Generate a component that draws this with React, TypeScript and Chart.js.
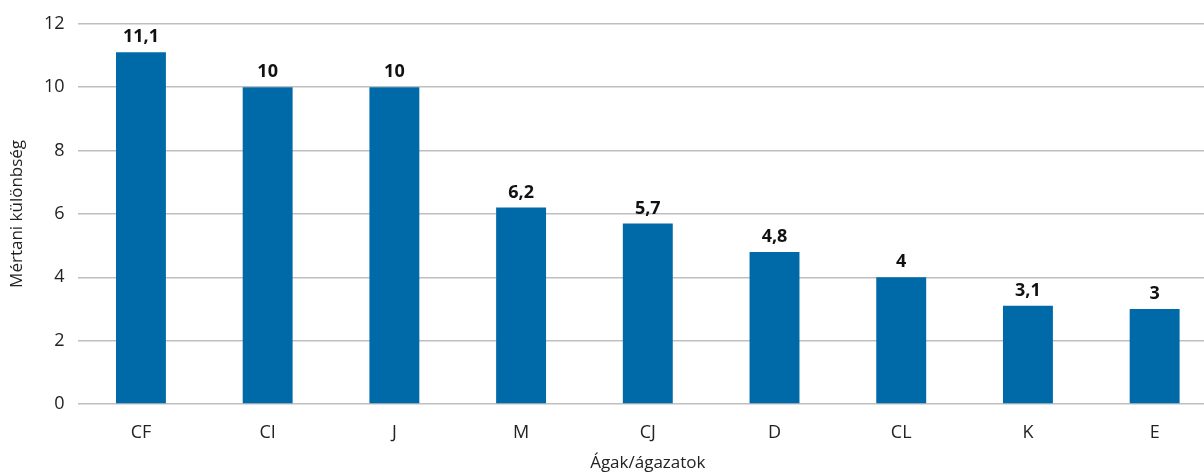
import React, { useEffect, useRef } from "react";
import { Chart, registerables } from "chart.js";

Chart.register(...registerables);

const categories = ["CF", "CI", "J", "M", "CJ", "D", "CL", "K", "E"];
const values = [11.1, 10, 10, 6.2, 5.7, 4.8, 4, 3.1, 3];
const yTicks = [0, 2, 4, 6, 8, 10, 12];

const FONT = "'Open Sans', 'Noto Sans', sans-serif";
const BAR_COLOR = "#006aa8";

const valueLabels = {
  id: "valueLabels",
  afterDatasetsDraw(chart: any) {
    const ctx = chart.ctx;
    const meta = chart.getDatasetMeta(0);
    ctx.save();
    ctx.font = `bold 18px ${FONT}`;
    ctx.fillStyle = "#111111";
    ctx.textAlign = "center";
    ctx.textBaseline = "bottom";
    meta.data.forEach((bar: any, i: number) => {
      const text = String(values[i]).replace(".", ",");
      ctx.fillText(text, bar.x, bar.y - 6);
    });
    ctx.restore();
  },
};

export default function App() {
  const ref = useRef<HTMLCanvasElement | null>(null);

  useEffect(() => {
    if (!ref.current) return;
    const chart = new Chart(ref.current, {
      type: "bar",
      data: {
        labels: categories,
        datasets: [
          {
            data: values,
            backgroundColor: BAR_COLOR,
            barPercentage: 0.394,
            categoryPercentage: 1,
          },
        ],
      },
      options: {
        animation: false,
        responsive: false,
        maintainAspectRatio: false,
        layout: { padding: { top: 22, right: 4, left: 0, bottom: 0 } },
        plugins: {
          legend: { display: false },
          tooltip: { enabled: false },
        },
        scales: {
          x: {
            grid: { display: false },
            border: { display: false },
            ticks: {
              color: "#222222",
              font: { family: FONT, size: 18 },
              padding: 10,
            },
            title: {
              display: true,
              text: "Ágak/ágazatok",
              color: "#222222",
              font: { family: FONT, size: 17 },
              padding: { top: 9, bottom: 0 },
            },
            afterFit(scale: any) {
              scale.height = 69;
            },
          },
          y: {
            min: 0,
            max: 12,
            afterBuildTicks(scale: any) {
              scale.ticks = yTicks.map((v) => ({ value: v }));
            },
            grid: { color: "#bfbfbf", lineWidth: 1.5, drawTicks: false },
            border: { display: false },
            ticks: {
              color: "#222222",
              font: { family: FONT, size: 18 },
              padding: 13,
            },
            title: {
              display: true,
              text: "Mértani különbség",
              color: "#222222",
              font: { family: FONT, size: 17 },
              padding: { top: 7, bottom: 0 },
            },
            afterFit(scale: any) {
              scale.width = 77.6;
            },
          },
        },
      },
      plugins: [valueLabels],
    });
    return () => chart.destroy();
  }, []);

  return (
    <div
      style={{
        position: "fixed",
        left: 0,
        top: 0,
        width: 1204,
        height: 473,
        overflow: "hidden",
        background: "#ffffff",
      }}
    >
      <canvas ref={ref} width={1222} height={473} style={{ display: "block" }} />
    </div>
  );
}
